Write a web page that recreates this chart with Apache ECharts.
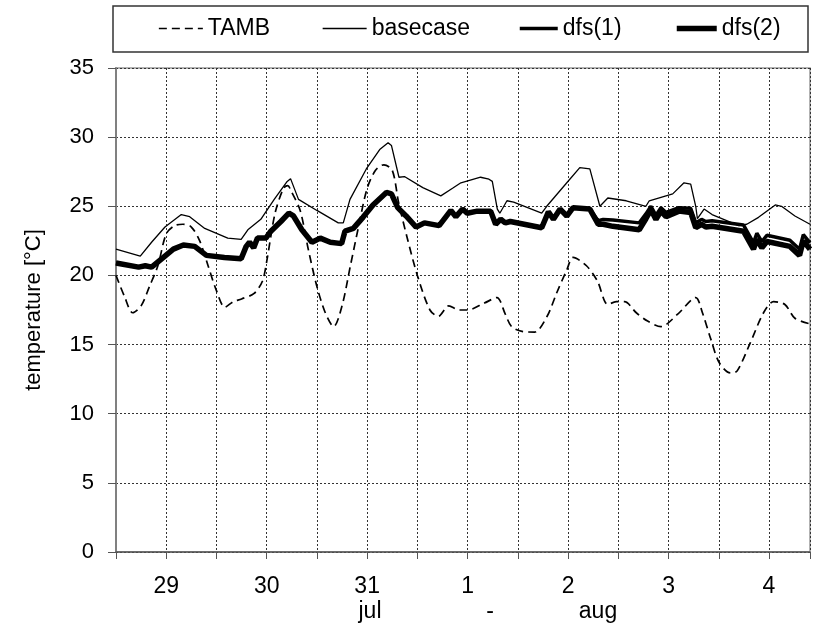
<!DOCTYPE html>
<html>
<head>
<meta charset="utf-8">
<script src="https://cdn.jsdelivr.net/npm/echarts@6/dist/echarts.min.js"></script>
<style>
  html, body { margin: 0; padding: 0; background: #fff; }
  #chart { width: 813px; height: 623px; }
</style>
</head>
<body>
<div id="chart"></div>
<script>
// hours from the left edge of the plot (28 jul, 12:00)
const dayLabels = ['29', '30', '31', '1', '2', '3', '4']

const tambHours = [0, 2, 4, 6, 8, 10, 12, 14, 16, 18, 20, 22, 24, 26, 28, 30, 33, 35, 36, 38, 40, 41, 42, 44, 46, 48, 50, 52, 54, 56, 58, 60, 62, 64, 66, 67.5, 69.5, 72, 75, 77, 79.5, 82, 84, 88, 91, 93, 94.5, 97, 100, 103, 105.3, 107.7, 109.2, 112.4, 115, 117.5, 119.5, 121.5, 124.3, 127, 130.2, 134.2, 138.5, 140.1, 142.1, 144.1, 146.8, 148.4, 151.5, 154.7, 157.1, 159.8, 162.2, 165.8]
const tamb = [20.0, 18.5, 17.3, 17.8, 19.2, 20.7, 23.0, 23.6, 23.7, 23.5, 22.5, 20.7, 18.9, 17.7, 18.1, 18.3, 18.7, 19.6, 21.0, 24.5, 26.3, 26.5, 26.0, 24.7, 21.8, 19.2, 17.3, 16.3, 17.8, 20.7, 23.6, 26.3, 27.6, 28.0, 27.6, 25.3, 22.8, 20.0, 17.5, 17.05, 17.8, 17.5, 17.5, 18.0, 18.4, 17.2, 16.3, 15.95, 15.9, 17.05, 18.75, 20.4, 21.3, 20.7, 19.6, 17.9, 18.1, 18.1, 17.3, 16.7, 16.3, 17.2, 18.4, 17.3, 15.4, 13.7, 12.95, 13.1, 15.1, 17.3, 18.1, 17.9, 16.9, 16.5]

const baseHours = [0, 5.8, 8.5, 11.7, 15.6, 17.6, 21.2, 26.7, 29.9, 31.5, 34.6, 37.8, 40.9, 41.7, 43.6, 48, 53.1, 54.3, 55.9, 59.8, 63, 65, 65.8, 67.6, 68.9, 73.3, 77.6, 80.4, 82.4, 87.1, 89.1, 89.9, 91.1, 91.7, 93.4, 95, 101.7, 102.9, 107.7, 110.8, 113.2, 115.6, 117.5, 121.9, 126.6, 127.4, 133, 135.7, 137.3, 138.5, 138.9, 140.5, 142.4, 148.8, 150.7, 153.5, 157.5, 159, 162.2, 165.8]
const basecase = [21.9, 21.4, 22.4, 23.5, 24.4, 24.25, 23.4, 22.7, 22.6, 23.3, 24.06, 25.5, 26.8, 27.0, 25.5, 24.7, 23.8, 23.8, 25.5, 27.7, 29.1, 29.6, 29.4, 27.1, 27.15, 26.35, 25.75, 26.3, 26.7, 27.1, 26.96, 26.8, 24.8, 24.5, 25.4, 25.3, 24.5, 25.0, 26.7, 27.8, 27.7, 25.0, 25.6, 25.4, 25.0, 25.4, 25.9, 26.7, 26.6, 25.0, 24.1, 24.8, 24.4, 23.6, 23.7, 24.2, 25.1, 25.0, 24.3, 23.7]

const dfsHours = [0, 5.4, 7, 8.5, 10.9, 13.7, 16.1, 18.8, 21.6, 25.9, 29.9, 31.1, 31.9, 32.9, 33.8, 35.8, 37, 39.4, 41.3, 42.4, 44.4, 46.8, 48.8, 51.2, 53.9, 54.7, 56.7, 59, 61.4, 64.6, 65.8, 67.3, 69.3, 71.7, 73.7, 77.2, 80, 81.2, 82.8, 83.9, 86.3, 89.5, 90.7, 91.9, 93, 94.2, 101.7, 103.3, 104.5, 106.1, 107.7, 109.2, 113.2, 115.2, 116.4, 118.7, 125, 126.6, 127.8, 129, 130.2, 131.4, 134.5, 137.3, 138.5, 139.9, 140.9, 142.4, 149.9, 152.3, 153.1, 154.3, 155.5, 161, 163.3, 164.2, 165.8]
const dfs1 = [20.9, 20.6, 20.7, 20.6, 21.2, 21.9, 22.2, 22.1, 21.45, 21.3, 21.2, 22.1, 22.4, 22.0, 22.7, 22.7, 23.2, 23.9, 24.5, 24.3, 23.3, 22.4, 22.7, 22.4, 22.3, 23.2, 23.4, 24.2, 25.1, 26.0, 25.9, 24.9, 24.3, 23.5, 23.8, 23.6, 24.7, 24.25, 24.8, 24.5, 24.65, 24.65, 23.7, 24.06, 23.8, 23.9, 23.45, 24.6, 24.06, 24.8, 24.3, 24.9, 24.8, 23.95, 24.05, 24.0, 23.8, 24.45, 25.0, 24.35, 24.9, 24.55, 24.9, 24.85, 23.8, 24.05, 23.9, 23.95, 23.65, 22.35, 23.05, 22.45, 22.9, 22.55, 21.9, 22.95, 22.35]
const dfs2 = [20.9, 20.6, 20.7, 20.6, 21.2, 21.9, 22.2, 22.1, 21.45, 21.3, 21.2, 22.1, 22.4, 22.0, 22.7, 22.7, 23.2, 23.9, 24.5, 24.3, 23.3, 22.4, 22.7, 22.4, 22.3, 23.2, 23.4, 24.2, 25.1, 26.0, 25.9, 24.9, 24.3, 23.5, 23.8, 23.6, 24.7, 24.25, 24.8, 24.5, 24.65, 24.65, 23.7, 24.06, 23.8, 23.9, 23.45, 24.6, 24.06, 24.8, 24.3, 24.9, 24.8, 23.7, 23.7, 23.55, 23.3, 24.1, 24.75, 24.05, 24.65, 24.25, 24.65, 24.55, 23.45, 23.7, 23.5, 23.55, 23.2, 21.9, 22.6, 22.0, 22.45, 22.1, 21.45, 22.5, 21.9]

const zip = (xs, ys) => xs.map((x, i) => [x, ys[i]])

const FONT = "'Liberation Sans', Arial, sans-serif"

const chart = echarts.init(document.getElementById('chart'))

// one legend per entry so each can sit where the original has it
const legendAt = (name, left, width, lineWidth) => ({
  data: [name],
  left: left,
  top: 17,
  padding: 0,
  itemWidth: width,
  itemHeight: 14,
  selectedMode: false,
  itemStyle: { opacity: 0 },
  lineStyle: { width: lineWidth },
  textStyle: { fontFamily: FONT, fontSize: 23, color: '#000' }
})

chart.setOption({
  animation: false,
  backgroundColor: '#fff',
  textStyle: { fontFamily: FONT },
  grid: {
    left: 116, right: -2, top: 68, bottom: 71,
    show: true, borderColor: '#999', borderWidth: 1.5
  },
  legend: [
    legendAt('TAMB', 158, 44, 1.7),
    legendAt('basecase', 322, 44, 1.3),
    legendAt('dfs(1)', 518, 38, 3.5),
    legendAt('dfs(2)', 674, 40, 5.5)
  ],
  graphic: [
    {
      type: 'rect', z: -1,
      shape: { x: 113, y: 6, width: 695, height: 46 },
      style: { fill: '#fff', stroke: '#333', lineWidth: 1.5 }
    },
    { type: 'text', x: 370, y: 612, style: { text: 'jul', font: '23px ' + FONT, fill: '#000', align: 'center', verticalAlign: 'middle' } },
    { type: 'text', x: 490, y: 612, style: { text: '-', font: '23px ' + FONT, fill: '#000', align: 'center', verticalAlign: 'middle' } },
    { type: 'text', x: 598, y: 612, style: { text: 'aug', font: '23px ' + FONT, fill: '#000', align: 'center', verticalAlign: 'middle' } }
  ],
  xAxis: {
    type: 'value',
    min: 0,
    max: 165.8,
    interval: 12,
    axisLine: { lineStyle: { color: '#555', width: 1.5 } },
    axisTick: { show: true, length: 7, lineStyle: { color: '#555' } },
    axisLabel: {
      margin: 23,
      fontSize: 23,
      color: '#000',
      formatter: (v) => ((v - 12) % 24 === 0 ? dayLabels[(v - 12) / 24] : '')
    },
    splitLine: { show: true, lineStyle: { color: '#333', type: [2, 2], width: 1 } }
  },
  yAxis: {
    type: 'value',
    min: 0,
    max: 35,
    interval: 5,
    name: 'temperature [°C]',
    nameLocation: 'middle',
    nameGap: 71,
    nameTextStyle: { fontSize: 22, color: '#000' },
    axisLine: { show: true, lineStyle: { color: '#808080', width: 2 } },
    axisTick: { show: true, length: 8, lineStyle: { color: '#555' } },
    axisLabel: { margin: 22, fontSize: 22, color: '#000' },
    splitLine: { show: true, lineStyle: { color: '#333', type: [2, 2], width: 1 } }
  },
  series: [
    {
      name: 'TAMB', type: 'line', data: zip(tambHours, tamb),
      symbol: 'none', smooth: 0.3, color: '#000',
      lineStyle: { color: '#000', width: 1.7, type: [8, 5] }
    },
    {
      name: 'basecase', type: 'line', data: zip(baseHours, basecase),
      symbol: 'none', color: '#000',
      lineStyle: { color: '#000', width: 1.3 }
    },
    {
      name: 'dfs(2)', type: 'line', data: zip(dfsHours, dfs2),
      symbol: 'none', color: '#000',
      lineStyle: { color: '#000', width: 5.5 }
    },
    {
      name: 'dfs(1)', type: 'line', data: zip(dfsHours, dfs1),
      symbol: 'none', color: '#000',
      lineStyle: { color: '#000', width: 3.5 }
    }
  ]
})

window.addEventListener('resize', () => chart.resize())
</script>
</body>
</html>
